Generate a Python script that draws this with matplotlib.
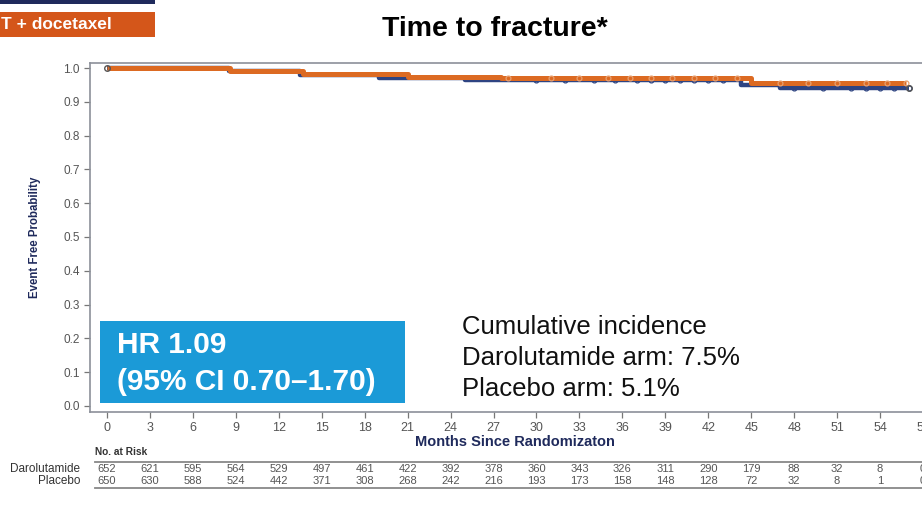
import numpy as np
import matplotlib.pyplot as plt
from matplotlib.patches import Rectangle
from matplotlib.lines import Line2D

plt.rcParams['font.family'] = ['Liberation Sans', 'DejaVu Sans']

# Kaplan-Meier step curves (months, event free probability)
daro_t = [0, 8.5, 13.5, 19.0, 25.0, 33.0, 44.3, 47.0, 56.0]
daro_s = [1.0, 0.990, 0.980, 0.972, 0.966, 0.965, 0.951, 0.942, 0.942]
plac_t = [0, 8.6, 13.7, 21.0, 27.5, 45.0, 55.8]
plac_s = [1.0, 0.991, 0.981, 0.975, 0.970, 0.955, 0.955]

# censored observations
daro_cens_t = [30, 32, 34, 35.5, 37, 38, 39, 40, 41, 42, 43, 48, 50, 52, 53, 54, 55, 56]
plac_cens_t = [28, 31, 33, 35, 36.5, 38, 39.5, 41, 42.5, 44, 47, 49, 51, 53, 54.5, 55.8]

ticks = list(range(0, 58, 3))
risk_daro = [652, 621, 595, 564, 529, 497, 461, 422, 392, 378, 360, 343, 326, 311, 290, 179, 88, 32, 8, 0]
risk_plac = [650, 630, 588, 524, 442, 371, 308, 268, 242, 216, 193, 173, 158, 148, 128, 72, 32, 8, 1, 0]

navy = '#1F2A5C'
c_daro = '#2E4482'
c_plac = '#DC6A22'
grey = '#8C9099'

W, H = 922, 505
fig = plt.figure(figsize=(W / 100, H / 100), dpi=100)


def fx(px):
    return px / W


def fy(py):
    return 1 - py / H


ax_top, ax_bot = 63, 412
ax = fig.add_axes([fx(90), fy(ax_bot), fx(940 - 90), fy(ax_top) - fy(ax_bot)])
ax.set_xlim(-1.19, 58.19)
ax.set_ylim(-0.018, 1.015)


def step_val(t, ts, ss):
    i = np.searchsorted(ts, t, side='right') - 1
    return ss[max(i, 0)]


ax.step(daro_t, daro_s, where='post', color=c_daro, lw=3.2, solid_capstyle='butt', zorder=3)
ax.plot(daro_cens_t, [step_val(t, daro_t, daro_s) for t in daro_cens_t], 'o',
        ms=3.5, mfc='none', mec=c_daro, mew=0.9, zorder=3)
ax.step(plac_t, plac_s, where='post', color=c_plac, lw=3.6, solid_capstyle='butt', zorder=4)
ax.plot(plac_cens_t, [step_val(t, plac_t, plac_s) for t in plac_cens_t], 'o',
        ms=3.5, mfc='none', mec='#E8A070', mew=0.9, zorder=4)
ax.plot([daro_t[0]], [daro_s[0]], 'o', ms=4, mfc='none', mec='#555555', mew=1, zorder=5)
ax.plot([daro_t[-1]], [daro_s[-1]], 'o', ms=4, mfc='none', mec='#555555', mew=1, zorder=5)

ax.set_xticks(ticks)
ax.set_yticks(np.arange(0, 1.01, 0.1))
ax.set_yticklabels([f'{v:.1f}' for v in np.arange(0, 1.01, 0.1)])
ax.tick_params(axis='both', direction='out', length=4, width=0.9, color='#777777',
               labelcolor='#555555', labelsize=8.5)
ax.tick_params(axis='x', pad=3, labelsize=9)
for sp in ax.spines.values():
    sp.set_color(grey)
    sp.set_linewidth(1.2)

ax.set_xlabel('Months Since Randomizaton', fontsize=10.5, fontweight='bold', color=navy)
ax.xaxis.set_label_coords(0.5, (ax_bot - 435) / (ax_bot - ax_top))
ax.set_ylabel('Event Free Probability', fontsize=8.3, fontweight='bold', color=navy)
ax.yaxis.set_label_coords((35 - 90) / 850, 0.5)
ax.yaxis.label.set_va('center')

# hazard ratio box
fig.patches.append(Rectangle((fx(100), fy(403)), fx(405 - 100), fy(321) - fy(403),
                             transform=fig.transFigure, facecolor='#1B9AD7', edgecolor='none', zorder=5))
fig.text(fx(117), fy(345), 'HR 1.09', color='white', fontsize=21.5, fontweight='bold', va='center', zorder=6)
fig.text(fx(117), fy(382), '(95% CI 0.70\u20131.70)', color='white', fontsize=21.5, fontweight='bold',
         va='center', zorder=6)

# cumulative incidence note
for py, s in zip([327, 358, 389], ['Cumulative incidence', 'Darolutamide arm: 7.5%', 'Placebo arm: 5.1%']):
    fig.text(fx(462), fy(py), s, color='#111111', fontsize=18.5, va='center')

# title and header tag
fig.text(fx(495), fy(29), 'Time to fracture*', fontsize=20.5, fontweight='bold', ha='center', va='center')
fig.patches.append(Rectangle((0, fy(4)), fx(155), fy(0) - fy(4), transform=fig.transFigure,
                             facecolor=navy, edgecolor='none'))
fig.patches.append(Rectangle((0, fy(37)), fx(155), fy(12) - fy(37), transform=fig.transFigure,
                             facecolor='#D4561A', edgecolor='none'))
fig.text(fx(1), fy(24.5), 'T + docetaxel', color='white', fontsize=12.5, fontweight='bold', va='center')

# number at risk table
fig.text(fx(95), fy(452), 'No. at Risk', fontsize=7.3, fontweight='bold', color='#333333', va='center')
for py in (461.5, 488):
    fig.add_artist(Line2D([fx(95), 1.0], [fy(py), fy(py)], transform=fig.transFigure,
                          color='#888888', lw=1.3))
row_tf = ax.get_xaxis_transform()
for py, name, vals in [(469, 'Darolutamide', risk_daro), (481, 'Placebo', risk_plac)]:
    fig.text(fx(80), fy(py), name, fontsize=8.5, color='#333333', ha='right', va='center')
    yax = (ax_bot - py) / (ax_bot - ax_top)
    for t, v in zip(ticks, vals):
        ax.text(t, yax, str(v), transform=row_tf, fontsize=8, color='#555555',
                ha='center', va='center', clip_on=False)

fig.savefig('out.png', dpi=100)
